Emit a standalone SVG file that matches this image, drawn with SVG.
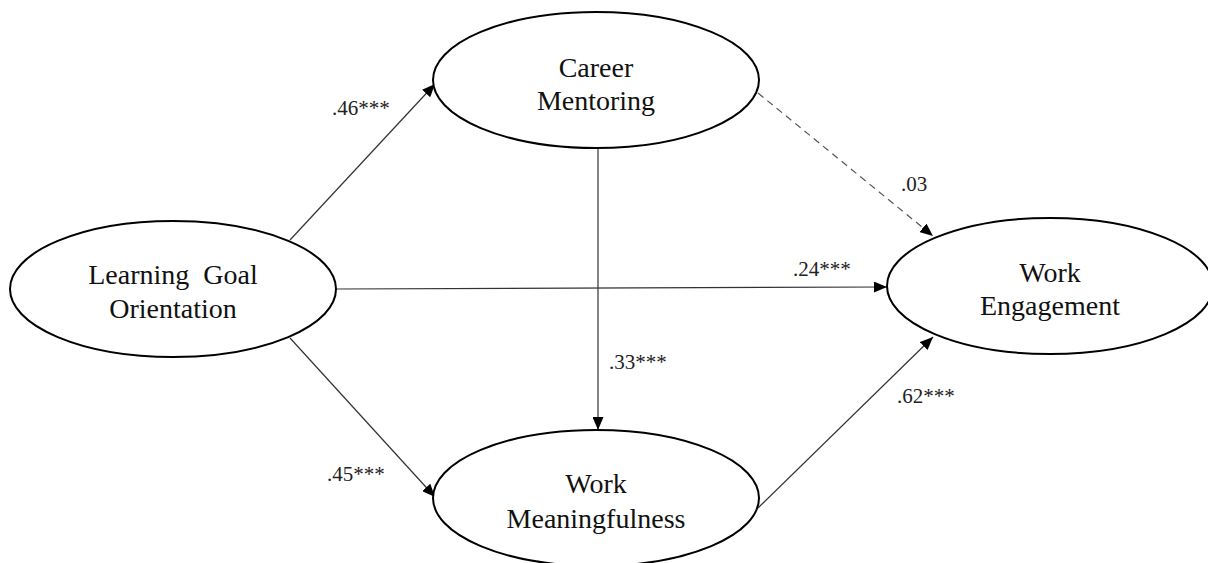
<svg xmlns="http://www.w3.org/2000/svg" width="1208" height="563" viewBox="0 0 1208 563">
<style>
.node{fill:#fff;stroke:#000;stroke-width:2}
.nt{font-family:"Liberation Serif","Times New Roman",serif;font-size:28px;fill:#111;text-anchor:middle}
.lbl{font-family:"Liberation Serif","Times New Roman",serif;font-size:21px;fill:#222}
.edge{stroke:#333;stroke-width:1.2;fill:none}
.dash{stroke-dasharray:7,5;stroke:#555}
</style>
<defs>
<marker id="ah" viewBox="0 0 13 11" refX="13" refY="5.5" markerWidth="13" markerHeight="11" markerUnits="userSpaceOnUse" orient="auto">
<path d="M0,0 L13,5.5 L0,11 Z" fill="#000"/>
</marker>
</defs>
<g id="connectors">
<line class="edge" x1="290" y1="240" x2="435" y2="84" marker-end="url(#ah)"/>
<line class="edge" x1="290" y1="338" x2="435" y2="497" marker-end="url(#ah)"/>
<line class="edge" x1="337" y1="289" x2="887" y2="287" marker-end="url(#ah)"/>
<line class="edge" x1="598" y1="148" x2="598" y2="430" stroke="#000" marker-end="url(#ah)"/>
<line class="edge dash" x1="758" y1="93" x2="933" y2="236" marker-end="url(#ah)"/>
<line class="edge" x1="758" y1="508" x2="933" y2="337" marker-end="url(#ah)"/>
<text class="lbl" x="332" y="115">.46***</text>
<text class="lbl" x="327" y="481">.45***</text>
<text class="lbl" x="609" y="369">.33***</text>
<text class="lbl" x="901" y="191">.03</text>
<text class="lbl" x="793" y="276">.24***</text>
<text class="lbl" x="897" y="403">.62***</text>
</g>
<g id="lgo">
<ellipse class="node" cx="173" cy="289" rx="163" ry="68"/>
<text class="nt" x="173" y="284" xml:space="preserve">Learning  Goal</text>
<text class="nt" x="173" y="318">Orientation</text>
</g>
<g id="cm">
<ellipse class="node" cx="596" cy="80" rx="163" ry="68"/>
<text class="nt" x="596" y="77">Career</text>
<text class="nt" x="596" y="110">Mentoring</text>
</g>
<g id="wm">
<ellipse class="node" cx="596" cy="498" rx="163" ry="68"/>
<text class="nt" x="596" y="493">Work</text>
<text class="nt" x="596" y="528">Meaningfulness</text>
</g>
<g id="we">
<ellipse class="node" cx="1050" cy="286" rx="163" ry="68"/>
<text class="nt" x="1050" y="282">Work</text>
<text class="nt" x="1050" y="315">Engagement</text>
</g>
</svg>
